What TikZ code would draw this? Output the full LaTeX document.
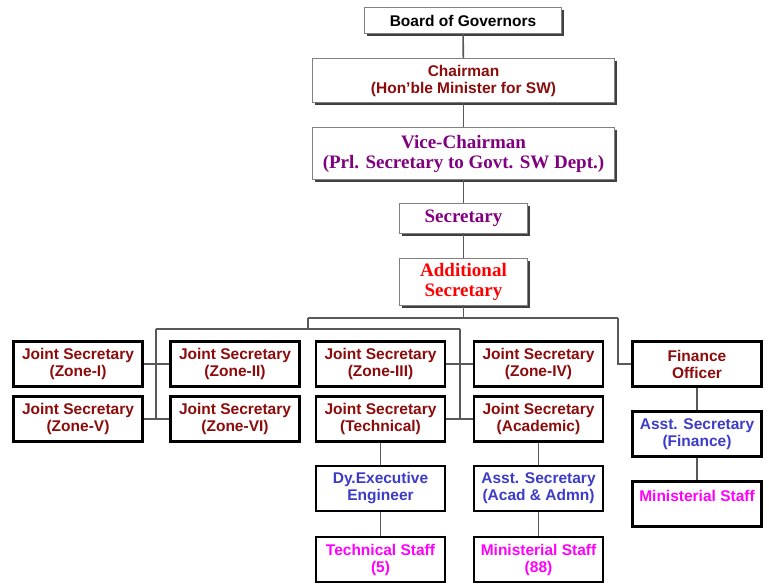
\documentclass[tikz,border=0pt]{standalone}
\usepackage{fontspec}
\setmainfont{Liberation Sans}
\newfontfamily\serifface{Liberation Serif}
\usetikzlibrary{shadows}
\definecolor{darkred}{RGB}{140,12,12}
\definecolor{vicepurple}{RGB}{128,0,128}
\definecolor{staffblue}{RGB}{60,60,200}
\definecolor{staffpink}{RGB}{255,0,255}
\begin{document}
\begin{tikzpicture}
[
    x=1pt, y=-1pt,
    topbox/.style 2 args={draw=gray, fill=white, line width=0.8pt, inner sep=0pt, align=center,
        minimum width=#1, minimum height=#2,
        drop shadow={shadow xshift=2.5pt, shadow yshift=-2.5pt, fill=black!75, opacity=1}},
    lowbox/.style={draw=black, fill=white, line width=2.6pt, inner sep=0pt, align=center,
        minimum width=129pt, minimum height=45pt},
    sanstext/.style={font=\fontsize{15.5}{17}\selectfont\bfseries},
    seriftext/.style={font=\serifface\fontsize{19}{20}\selectfont\bfseries},
    topline/.style={draw=black!65, line width=1.6pt},
    branch/.style={draw=black!65, line width=1.2pt},
]
\useasboundingbox[fill=white] (0,0) rectangle (769,586);
\node [topbox={197pt}{26pt}, sanstext] (gov) at (463,20.5) {Board of Governors};
\node [topbox={302pt}{44pt}, sanstext, text=darkred] (chair) at (463.5,80.5)
    {Chairman\\(Hon'ble Minister for SW)};
\node [topbox={302pt}{52pt}, seriftext, text=vicepurple] (vice) at (463.5,153.5)
    {Vice-Chairman\\(Prl. Secretary to Govt. SW Dept.)};
\node [topbox={128pt}{30pt}, seriftext, text=vicepurple] (sec) at (463.5,218) {Secretary};
\node [topbox={128pt}{47pt}, seriftext, text=red] (addl) at (463.5,281.5) {Additional\\Secretary};

\node [lowbox, sanstext, text=darkred] (zone1) at (78,364) {Joint Secretary\\(Zone-I)};
\node [lowbox, sanstext, text=darkred] (zone2) at (235,364) {Joint Secretary\\(Zone-II)};
\node [lowbox, sanstext, text=darkred] (zone3) at (380.5,364) {Joint Secretary\\(Zone-III)};
\node [lowbox, sanstext, text=darkred] (zone4) at (538.5,364) {Joint Secretary\\(Zone-IV)};
\node [lowbox, sanstext, text=darkred] (fin) at (697,364) {Finance\\Officer};
\node [lowbox, sanstext, text=darkred] (zone5) at (78,419) {Joint Secretary\\(Zone-V)};
\node [lowbox, sanstext, text=darkred] (zone6) at (235,419) {Joint Secretary\\(Zone-VI)};
\node [lowbox, sanstext, text=darkred] (tech) at (380.5,419) {Joint Secretary\\(Technical)};
\node [lowbox, sanstext, text=darkred] (acad) at (538.5,419) {Joint Secretary\\(Academic)};

\node [lowbox, sanstext, text=staffblue] (finasst) at (697,434) {Asst. Secretary\\(Finance)};
\node [lowbox, sanstext, text=staffblue] (dyee) at (380.5,488.5) {Dy.Executive\\Engineer};
\node [lowbox, sanstext, text=staffblue] (acadasst) at (538.5,488.5) {Asst. Secretary\\(Acad \& Admn)};
\node [lowbox, sanstext, text=staffpink] (finstaff) at (697,504) {Ministerial Staff\\~};
\node [lowbox, sanstext, text=staffpink] (techstaff) at (380.5,559.5) {Technical Staff\\(5)};
\node [lowbox, sanstext, text=staffpink] (acadstaff) at (538.5,559.5) {Ministerial Staff\\(88)};

\coordinate (split) at (463.5,318);
\coordinate (lsplit) at (308,318);
\coordinate (rsplit) at (618,318);
\coordinate (lbar) at (308,329);
\coordinate (bar1) at (156,329);
\coordinate (bar2) at (460,329);

\draw [topline] (gov) -- (chair);
\draw [topline] (chair) -- (vice);
\draw [topline] (vice) -- (sec);
\draw [topline] (sec) -- (addl);
\draw [topline] (addl) -- (split);

\draw [branch] (lsplit) -- (rsplit);
\draw [branch] (lsplit) -- (lbar);
\draw [branch] (bar1) -- (bar2);
\draw [branch] (bar1) -- (bar1 |- zone5.east);
\draw [branch] (bar2) -- (bar2 |- tech.east);
\draw [branch] (rsplit) |- (fin.west);
\draw [branch] (zone1) -- (zone2);
\draw [branch] (zone5) -- (zone6);
\draw [branch] (zone3) -- (zone4);
\draw [branch] (tech) -- (acad);
\draw [branch] (tech) -- (dyee);
\draw [branch] (dyee) -- (techstaff);
\draw [branch] (acad) -- (acadasst);
\draw [branch] (acadasst) -- (acadstaff);
\draw [branch] (fin) -- (finasst);
\draw [branch] (finasst) -- (finstaff);
\end{tikzpicture}
\end{document}
